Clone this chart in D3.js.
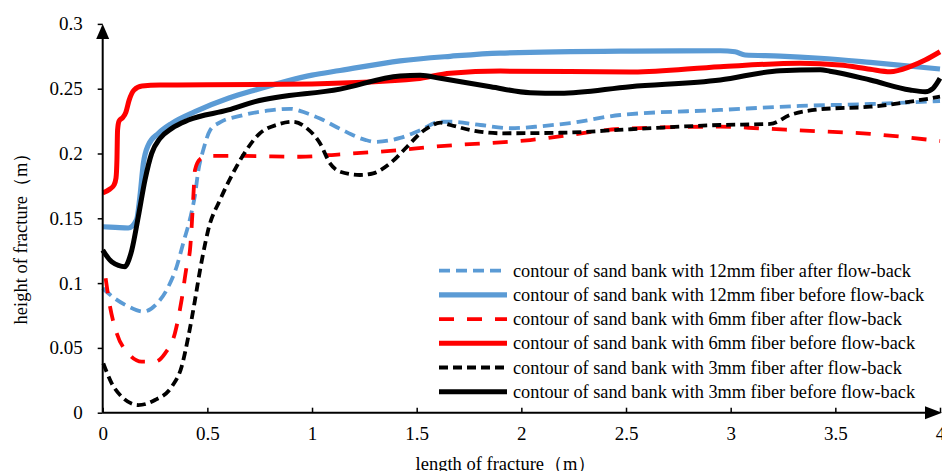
<!DOCTYPE html>
<html lang="en">
<head>
    <meta charset="UTF-8">
    <title>sand bank contour</title>
    <script src="https://cdn.jsdelivr.net/npm/d3@7/dist/d3.min.js"></script>
    <style>
        body { margin: 0; background: #fff; }
        svg text { font-family: "Liberation Serif", "Times New Roman", serif; fill: #000; }
    </style>
</head>
<body>
    <script>
        //chart size
        var w = 942;
        var h = 471;

        //tick labels
        var xTicks = [0, 0.5, 1, 1.5, 2, 2.5, 3, 3.5, 4];
        var yTicks = [0, 0.05, 0.1, 0.15, 0.2, 0.25, 0.3];

        //series, [length of fracture, height of fracture]
        var fiber12After = [[0,0.096],[0.059,0.088],[0.122,0.082],[0.194,0.078],[0.258,0.084],[0.313,0.097],[0.354,0.113],[0.385,0.131],[0.425,0.155],[0.441,0.168],[0.457,0.187],[0.481,0.203],[0.513,0.218],[0.56,0.224],[0.656,0.229],[0.785,0.233],[0.895,0.2345],[0.976,0.231],[1.038,0.227],[1.134,0.219],[1.254,0.2105],[1.302,0.209],[1.421,0.212],[1.517,0.218],[1.613,0.2245],[1.661,0.2245],[1.804,0.222],[1.948,0.2195],[2.09,0.221],[2.233,0.2235],[2.472,0.2297],[2.95,0.2336],[3.331,0.2367],[3.667,0.2382],[4.0,0.2405]];
        var fiber12Before = [[0,0.1435],[0.06,0.143],[0.122,0.1425],[0.162,0.149],[0.178,0.167],[0.194,0.192],[0.218,0.2066],[0.266,0.2156],[0.33,0.2233],[0.441,0.2323],[0.6,0.2426],[0.728,0.249],[1.0,0.2605],[1.134,0.264],[1.421,0.2715],[1.66,0.275],[1.898,0.2775],[2.534,0.279],[2.95,0.2793],[3.021,0.2785],[3.069,0.276],[3.236,0.2752],[3.428,0.2735],[3.667,0.2703],[4.0,0.2652]];
        var fiber6After = [[0.014,0.1037],[0.035,0.0818],[0.067,0.0613],[0.122,0.0458],[0.186,0.0394],[0.25,0.0394],[0.298,0.0458],[0.345,0.0613],[0.377,0.087],[0.401,0.1127],[0.417,0.1255],[0.425,0.1435],[0.433,0.1667],[0.441,0.1873],[0.465,0.1955],[0.505,0.1981],[0.68,0.1981],[0.943,0.1975],[1.134,0.1994],[1.421,0.2027],[1.565,0.205],[2.042,0.2104],[2.52,0.2194],[2.95,0.2207],[3.141,0.2194],[3.331,0.2178],[3.667,0.2151],[4.0,0.2096]];
        var fiber6Before = [[0,0.1695],[0.035,0.1726],[0.054,0.1757],[0.0635,0.181],[0.068,0.195],[0.071,0.218],[0.078,0.225],[0.097,0.228],[0.111,0.232],[0.126,0.241],[0.15,0.249],[0.188,0.252],[0.274,0.2528],[0.5,0.253],[1.0,0.2537],[1.5,0.2576],[1.66,0.262],[1.9,0.2636],[2.534,0.2628],[2.95,0.267],[3.331,0.2696],[3.522,0.2683],[3.666,0.265],[3.762,0.2631],[3.857,0.267],[3.929,0.2721],[4.0,0.2785]];
        var fiber3After = [[0.003,0.0381],[0.043,0.0227],[0.091,0.0123],[0.17,0.0059],[0.25,0.0098],[0.33,0.0201],[0.377,0.0355],[0.409,0.0586],[0.441,0.087],[0.465,0.11],[0.489,0.13],[0.504,0.141],[0.56,0.164],[0.623,0.185],[0.67,0.1985],[0.752,0.2157],[0.833,0.2222],[0.91,0.2245],[0.976,0.2194],[1.038,0.2079],[1.086,0.1924],[1.134,0.186],[1.229,0.1834],[1.292,0.1847],[1.373,0.1924],[1.454,0.2052],[1.517,0.2156],[1.565,0.221],[1.613,0.2238],[1.661,0.222],[1.757,0.2181],[1.9,0.2156],[2.185,0.216],[2.52,0.2187],[2.95,0.222],[3.189,0.2228],[3.284,0.2297],[3.428,0.2341],[3.667,0.2361],[4.0,0.2438]];
        var fiber3Before = [[0,0.1255],[0.043,0.1165],[0.107,0.1127],[0.125,0.118],[0.139,0.1255],[0.17,0.1512],[0.202,0.1796],[0.234,0.2001],[0.274,0.2117],[0.33,0.2194],[0.409,0.2258],[0.6,0.2336],[0.728,0.24],[1.134,0.2497],[1.421,0.2598],[1.517,0.2604],[1.613,0.258],[1.853,0.2515],[2.042,0.2469],[2.185,0.2464],[2.52,0.2515],[2.95,0.2567],[3.236,0.2639],[3.428,0.2646],[3.474,0.2635],[3.667,0.2567],[3.857,0.249],[3.929,0.2477],[3.967,0.2503],[4.0,0.258]];

        var seriesNames = [
            'contour of sand bank with 12mm fiber after flow-back',
            'contour of sand bank with 12mm fiber before flow-back',
            'contour of sand bank with 6mm fiber after flow-back',
            'contour of sand bank with 6mm fiber before flow-back',
            'contour of sand bank with 3mm fiber after flow-back',
            'contour of sand bank with 3mm fiber before flow-back'
        ];
        var seriesData = [fiber12After, fiber12Before, fiber6After, fiber6Before, fiber3After, fiber3Before];

        //line styles for each series
        var styles = [
            {color: '#5b9bd5', width: 3.8, dash: '11,6'},
            {color: '#5b9bd5', width: 5.2, dash: null},
            {color: '#ff0000', width: 3.8, dash: '15,13'},
            {color: '#ff0000', width: 5, dash: null},
            {color: '#000000', width: 3.8, dash: '9,5'},
            {color: '#000000', width: 5, dash: null}
        ];

        //scales
        var xScale = d3.scaleLinear().domain([0, 4]).range([102.7, 940]);
        var yScale = d3.scaleLinear().domain([0, 0.3]).range([412.7, 23.9]);

        var svg = d3.select('body')
                    .append('svg')
                    .attr('width', w)
                    .attr('height', h);

        //curves
        var line = d3.line()
                    .x(function(d) { return xScale(d[0]); })
                    .y(function(d) { return yScale(d[1]); })
                    .curve(d3.curveMonotoneX);

        svg.selectAll('path.series')
            .data(seriesData)
            .enter()
            .append('path')
            .attr('class', 'series')
            .attr('d', line)
            .attr('fill', 'none')
            .attr('stroke', function(d, i) { return styles[i].color; })
            .attr('stroke-width', function(d, i) { return styles[i].width; })
            .attr('stroke-dasharray', function(d, i) { return styles[i].dash; })
            .attr('stroke-linejoin', 'round');

        //x axis, ticks point up
        var xAxis = d3.axisBottom(xScale)
                    .tickValues(xTicks)
                    .tickSize(-5)
                    .tickPadding(14)
                    .tickFormat(d3.format('~g'));

        var gx = svg.append('g')
            .attr('transform', 'translate(0,' + yScale(0) + ')')
            .call(xAxis);
        gx.select('.domain').remove();
        gx.selectAll('line').attr('stroke', '#000').attr('stroke-width', 1.5);
        gx.selectAll('text').attr('font-size', '19px').attr('font-family', '"Liberation Serif", serif');

        //y axis, ticks point left
        var yAxis = d3.axisLeft(yScale)
                    .tickValues(yTicks)
                    .tickSize(5)
                    .tickPadding(15)
                    .tickFormat(d3.format('~g'));

        var gy = svg.append('g')
            .attr('transform', 'translate(' + xScale(0) + ',0)')
            .call(yAxis);
        gy.select('.domain').remove();
        gy.selectAll('line').attr('stroke', '#000').attr('stroke-width', 1.5);
        gy.selectAll('text').attr('font-size', '19px').attr('font-family', '"Liberation Serif", serif');

        //axis lines with arrow heads
        svg.append('line')
            .attr('x1', xScale(0)).attr('y1', yScale(0))
            .attr('x2', 930).attr('y2', yScale(0))
            .attr('stroke', '#000').attr('stroke-width', 2);
        svg.append('path')
            .attr('d', 'M942,' + yScale(0) + 'L925,' + (yScale(0) - 6.5) + 'L925,' + (yScale(0) + 6.5) + 'Z')
            .attr('fill', '#000');

        svg.append('line')
            .attr('x1', xScale(0)).attr('y1', yScale(0))
            .attr('x2', xScale(0)).attr('y2', 34)
            .attr('stroke', '#000').attr('stroke-width', 2);
        svg.append('path')
            .attr('d', 'M' + xScale(0) + ',24L' + (xScale(0) - 6.5) + ',39L' + (xScale(0) + 6.5) + ',39Z')
            .attr('fill', '#000');

        //axis titles
        svg.append('text')
            .attr('x', 506)
            .attr('y', 470)
            .attr('text-anchor', 'middle')
            .attr('font-size', '18.5px')
            .text('length of fracture（m）');

        svg.append('text')
            .attr('transform', 'translate(27,234) rotate(-90)')
            .attr('text-anchor', 'middle')
            .attr('font-size', '18.5px')
            .text('height of fracture（m）');

        //legend
        var legend = svg.selectAll('g.legend')
            .data(seriesNames)
            .enter()
            .append('g')
            .attr('class', 'legend')
            .attr('transform', function(d, i) { return 'translate(0,' + (270.7 + i * 24.2) + ')'; });

        legend.append('line')
            .attr('x1', 439).attr('x2', 507)
            .attr('y1', 0).attr('y2', 0)
            .attr('stroke', function(d, i) { return styles[i].color; })
            .attr('stroke-width', function(d, i) { return styles[i].width; })
            .attr('stroke-dasharray', function(d, i) { return styles[i].dash; });

        legend.append('text')
            .attr('x', 513)
            .attr('y', 0)
            .attr('dy', '0.33em')
            .attr('font-size', '18.3px')
            .text(function(d) { return d; });
    </script>
</body>
</html>
